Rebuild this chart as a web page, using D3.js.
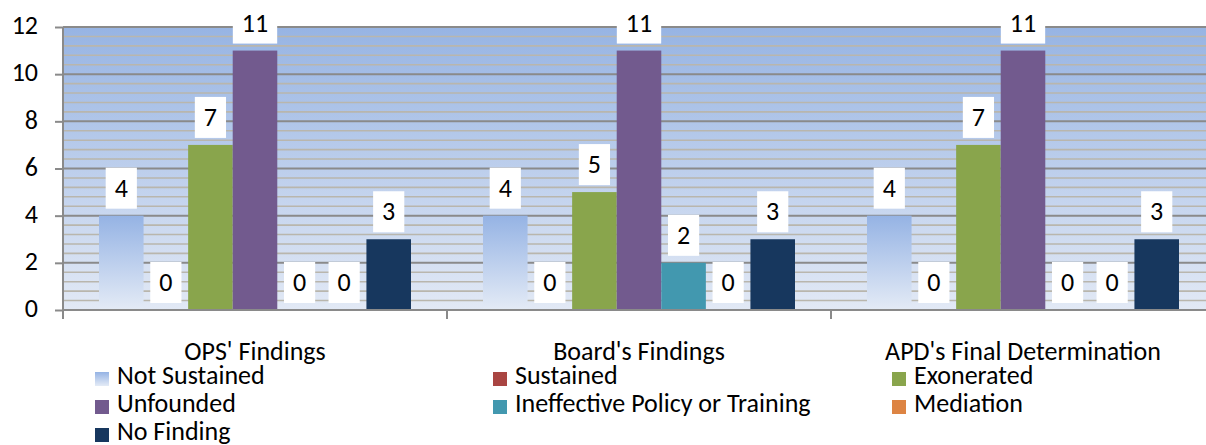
<!DOCTYPE html>
<html>
<head>
<meta charset="utf-8">
<script src="https://cdn.jsdelivr.net/npm/d3@7"></script>
<style>
  body { margin: 0; background: #fff; }
  text { font-family: Carlito, Lato, sans-serif; fill: #000; }
</style>
</head>
<body>
<svg id="chart" width="1206" height="445"></svg>
<script>
const categories = ["OPS' Findings", "Board's Findings", "APD's Final Determination"];
const seriesNames = ["Not Sustained", "Sustained", "Exonerated", "Unfounded",
  "Ineffective Policy or Training", "Mediation", "No Finding"];
const seriesColors = ["url(#barGrad)", "#a94542", "#89a54c", "#725a8e", "#4298af", "#dd8443", "#17375e"];

// values per series, one per category
const notSustained = [4, 4, 4];
const sustained = [0, 0, 0];
const exonerated = [7, 5, 7];
const unfounded = [11, 11, 11];
const ineffective = [0, 2, 0];
const mediation = [0, 0, 0];
const noFinding = [3, 3, 3];
const seriesValues = [notSustained, sustained, exonerated, unfounded, ineffective, mediation, noFinding];

const yTicks = [0, 2, 4, 6, 8, 10, 12];

const svg = d3.select('#chart');
const plotLeft = 63, plotTop = 27, plotBottom = 310;
const catWidth = 384;
const fontSize = '26px';

const x0 = d3.scaleBand().domain(categories).range([plotLeft, plotLeft + catWidth * categories.length]);
const x1 = d3.scaleBand().domain(seriesNames).range([36, catWidth - 36]);
const y = d3.scaleLinear().domain([0, 12]).range([plotBottom, plotTop]);

// gradients
const defs = svg.append('defs');
const bg = defs.append('linearGradient').attr('id', 'bgGrad')
  .attr('x1', 0).attr('y1', 0).attr('x2', 0).attr('y2', 1);
bg.append('stop').attr('offset', '0%').attr('stop-color', '#97b4e3');
bg.append('stop').attr('offset', '100%').attr('stop-color', '#e2e9f5');
const bar = defs.append('linearGradient').attr('id', 'barGrad')
  .attr('x1', 0).attr('y1', 0).attr('x2', 0).attr('y2', 1);
bar.append('stop').attr('offset', '0%').attr('stop-color', '#95b3e4');
bar.append('stop').attr('offset', '100%').attr('stop-color', '#e4ebf6');

// plot background
svg.append('rect')
  .attr('x', plotLeft).attr('y', plotTop)
  .attr('width', 1206 - plotLeft).attr('height', plotBottom - plotTop)
  .attr('fill', 'url(#bgGrad)');

// minor gridlines (every 0.4)
const minor = d3.range(0, 12.01, 0.4).filter(v => Math.abs(v / 2 - Math.round(v / 2)) > 0.01);
svg.append('g').selectAll('line')
  .data(minor)
  .enter()
  .append('line')
  .attr('x1', plotLeft).attr('x2', 1206)
  .attr('y1', d => y(d)).attr('y2', d => y(d))
  .attr('stroke', '#b9b6ad')
  .attr('stroke-width', 1.6);

// major gridlines
svg.append('g').selectAll('line')
  .data(yTicks.filter(v => v > 0))
  .enter()
  .append('line')
  .attr('x1', plotLeft).attr('x2', 1206)
  .attr('y1', d => y(d)).attr('y2', d => y(d))
  .attr('stroke', '#8a8a8a')
  .attr('stroke-width', 2);

// bars
const flat = [];
categories.forEach((c, ci) => {
  seriesNames.forEach((s, si) => {
    flat.push({ cat: c, series: s, si: si, value: seriesValues[si][ci] });
  });
});

svg.append('g').selectAll('rect')
  .data(flat.filter(d => d.value > 0))
  .enter()
  .append('rect')
  .attr('x', d => x0(d.cat) + x1(d.series))
  .attr('y', d => y(d.value))
  .attr('width', x1.bandwidth())
  .attr('height', d => y(0) - y(d.value))
  .attr('fill', d => seriesColors[d.si]);

// axes
const yAxis = svg.append('g')
  .attr('transform', `translate(${plotLeft},0)`)
  .call(d3.axisLeft(y).tickValues(yTicks).tickSize(8).tickPadding(17));
yAxis.select('.domain').remove();
yAxis.selectAll('line').attr('stroke', '#8a8a8a').attr('stroke-width', 2);
yAxis.selectAll('text').style('font-size', fontSize).attr('dy', '0.26em');

svg.append('line')
  .attr('x1', plotLeft).attr('x2', plotLeft).attr('y1', plotTop).attr('y2', plotBottom + 9)
  .attr('stroke', '#8a8a8a').attr('stroke-width', 2);
svg.append('line')
  .attr('x1', plotLeft).attr('x2', 1206).attr('y1', plotBottom).attr('y2', plotBottom)
  .attr('stroke', '#8a8a8a').attr('stroke-width', 2);

// category boundary ticks
svg.append('g').selectAll('line')
  .data(categories)
  .enter()
  .append('line')
  .attr('x1', d => x0(d)).attr('x2', d => x0(d))
  .attr('y1', plotBottom).attr('y2', plotBottom + 9)
  .attr('stroke', '#8a8a8a').attr('stroke-width', 2);

const xAxis = svg.append('g')
  .attr('transform', `translate(0,${plotBottom})`)
  .call(d3.axisBottom(x0).tickSize(0));
xAxis.select('.domain').remove();
xAxis.selectAll('text').style('font-size', fontSize).attr('y', 50).attr('dy', 0);

// data labels
const labels = svg.append('g').selectAll('g')
  .data(flat)
  .enter()
  .append('g')
  .attr('transform', d => `translate(${x0(d.cat) + x1(d.series) + x1.bandwidth() / 2},${y(d.value) - 7})`);

labels.append('rect').attr('fill', '#fff');
labels.append('text')
  .attr('text-anchor', 'middle')
  .attr('y', -12)
  .style('font-size', fontSize)
  .text(d => d.value);
labels.each(function () {
  const g = d3.select(this);
  const w = g.select('text').node().getComputedTextLength() + 18;
  g.select('rect').attr('x', -w / 2).attr('y', -41).attr('width', w).attr('height', 41);
});

// legend
const legendX = [95, 493, 892];
const legendY = [378, 406, 434];
const legend = svg.append('g').selectAll('g')
  .data(seriesNames)
  .enter()
  .append('g')
  .attr('transform', (d, i) => `translate(${legendX[i % 3]},${legendY[Math.floor(i / 3)]})`);

legend.append('rect')
  .attr('x', 0).attr('y', -6)
  .attr('width', 14).attr('height', 14)
  .attr('fill', (d, i) => seriesColors[i]);
legend.append('text')
  .attr('x', 22)
  .attr('y', 6)
  .style('font-size', fontSize)
  .text(d => d);
</script>
</body>
</html>
